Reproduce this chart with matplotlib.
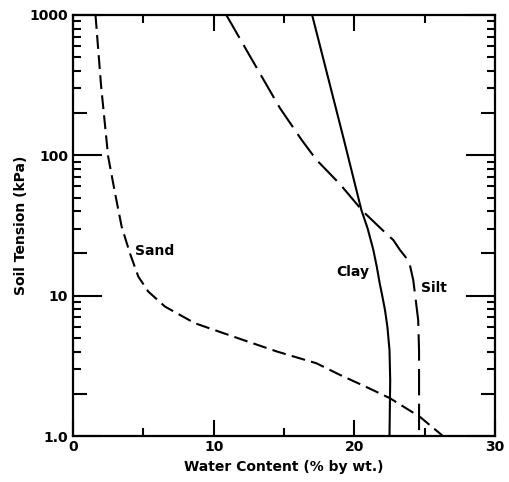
import numpy as np
import matplotlib
matplotlib.use("Agg")
import matplotlib.pyplot as plt
from matplotlib.ticker import FixedLocator, NullFormatter

plt.rcParams['font.family'] = ['DejaVu Sans']
plt.rcParams['lines.scale_dashes'] = False

# water content (% by wt.) vs soil tension (kPa)
sand_water = [1.6, 2.0, 2.5, 2.99, 3.46, 4.05, 4.64, 5.35, 6.54, 8.67, 11.75, 14.5, 17.3, 19.0, 21.0, 22.53, 24.66, 26.3]
sand_tension = [1000, 310, 98, 53.7, 31, 20, 13.7, 10.7, 8.36, 6.36, 4.97, 4.0, 3.3, 2.72, 2.2, 1.86, 1.37, 1.0]

clay_water = [17.0, 19.26, 20.5, 20.95, 21.35, 21.6, 21.8, 22.0, 22.18, 22.35, 22.5, 22.55, 22.5]
clay_tension = [1000, 129, 40.8, 30, 21.2, 16, 12.3, 9.8, 7.9, 6.0, 4.1, 2.5, 1.0]

silt_water = [10.9, 12.6, 14.7, 16.25, 17.3, 19.0, 20.6, 21.9, 22.77, 23.24, 23.65, 23.95, 24.19, 24.42, 24.54, 24.6, 24.6]
silt_tension = [1000, 505, 218, 129, 93, 62, 40, 30, 24.9, 21.2, 18.8, 16.5, 12.9, 8.4, 6.7, 4.1, 1.0]

x_ticks = [0, 10, 20, 30]
y_ticks = [1, 10, 100, 1000]
y_ticklabels = ["1.0", "10", "100", "1000"]

fig = plt.figure(figsize=(5.09, 4.82), dpi=100)
ax = fig.add_axes([0.1434, 0.0954, 0.8291, 0.8735])

ax.plot(sand_water, sand_tension, color='black', lw=1.5, dashes=(10, 4.5))
ax.plot(clay_water, clay_tension, color='black', lw=1.5)
ax.plot(silt_water, silt_tension, color='black', lw=1.5, dashes=(19, 6))

ax.set_yscale('log')
ax.set_xlim(0, 30)
ax.set_ylim(1, 1000)

ax.set_xticks(x_ticks)
ax.set_xticklabels([str(t) for t in x_ticks])
ax.xaxis.set_minor_locator(FixedLocator([5, 15, 25]))
ax.set_yticks(y_ticks)
ax.set_yticklabels(y_ticklabels)
ax.yaxis.set_minor_locator(FixedLocator([m * 10**e for e in range(0, 3) for m in range(2, 10)]))
ax.yaxis.set_minor_formatter(NullFormatter())

for s in ax.spines.values():
    s.set_linewidth(1.6)

ax.tick_params(which='both', direction='in', top=True, right=True, width=1.5, labelsize=10)
ax.tick_params(axis='x', which='major', length=11.5, pad=3)
ax.tick_params(axis='y', which='major', length=21, pad=3.5)
ax.tick_params(which='minor', length=5.5)
for lab in ax.get_xticklabels() + ax.get_yticklabels():
    lab.set_fontweight('bold')

ax.set_xlabel("Water Content (% by wt.)", fontsize=10, fontweight='bold', labelpad=4)
ax.set_ylabel("Soil Tension (kPa)", fontsize=10, fontweight='bold', labelpad=1)

ax.text(4.4, 20.8, "Sand", fontsize=10, fontweight='bold', va='center', ha='left')
ax.text(18.7, 14.8, "Clay", fontsize=10, fontweight='bold', va='center', ha='left')
ax.text(24.75, 11.3, "Silt", fontsize=10, fontweight='bold', va='center', ha='left')

# the 2, 20, 200 minor ticks are drawn longer
fig.canvas.draw()
for tick in ax.yaxis.get_minor_ticks():
    loc = tick.get_loc()
    if loc and np.isclose(loc / 10**np.floor(np.log10(loc)), 2):
        tick.tick1line.set_markersize(10)
        tick.tick2line.set_markersize(10)

fig.savefig("out.png", dpi=100)
